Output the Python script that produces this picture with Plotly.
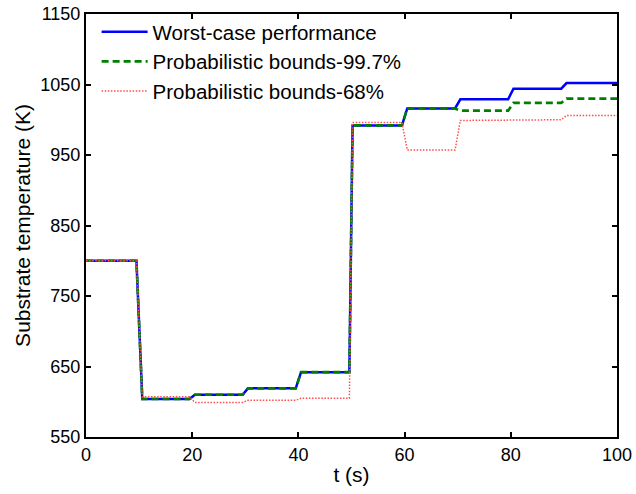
import plotly.graph_objects as go

# Time stamps (s): set-point changes every 10 s, each ramp taking about 1 s
t = [0, 9.5, 10.6, 19.5, 20.5, 29.5, 30.5, 39.5, 40.5, 49.6, 50.2,
     59.5, 60.5, 69.5, 70.5, 79.5, 80.5, 89.5, 90.5, 100]

# Substrate temperature (K)
worst_case = [800, 800, 604, 604, 610, 610, 619, 619, 642, 642, 992,
              992, 1016, 1016, 1029, 1029, 1044, 1044, 1052, 1052]
bounds_997 = [800, 800, 604, 604, 610, 610, 619, 619, 642, 642, 992,
              992, 1016, 1016, 1013, 1013, 1024, 1024, 1030, 1030]
bounds_68 = [800, 800, 607, 607, 599, 599, 602, 602, 605, 605, 996,
             996, 957, 957, 999, 999, 1000, 1000, 1006, 1006]

x_ticks = [0, 20, 40, 60, 80, 100]
y_ticks = [550, 650, 750, 850, 950, 1050, 1150]

FONT = "Liberation Sans, Arial, sans-serif"
TICK_FONT = dict(family=FONT, size=18, color="black")
LABEL_FONT = dict(family=FONT, size=21, color="black")
LEGEND_FONT = dict(family=FONT, size=20.5, color="black")

fig = go.Figure()
fig.add_trace(go.Scatter(x=t, y=worst_case, mode="lines",
                         name="Worst-case performance",
                         line=dict(color="#0000ff", width=2.5)))
fig.add_trace(go.Scatter(x=t, y=bounds_997, mode="lines",
                         name="Probabilistic bounds-99.7%",
                         line=dict(color="#008000", width=2.6, dash="7px,4px")))
fig.add_trace(go.Scatter(x=t, y=bounds_68, mode="lines",
                         name="Probabilistic bounds-68%",
                         line=dict(color="#ff4d4d", width=1.5, dash="1.5px,1.6px")))

axis_common = dict(showgrid=False, zeroline=False, showline=True,
                   linecolor="black", linewidth=2, mirror="ticks",
                   ticks="inside", ticklen=5, tickwidth=2, tickcolor="black",
                   tickfont=TICK_FONT)

fig.update_xaxes(range=[0, 100], tickvals=x_ticks,
                 title=dict(text="t (s)", font=LABEL_FONT, standoff=4),
                 **axis_common)
fig.update_yaxes(range=[550, 1150], tickvals=y_ticks,
                 title=dict(text="Substrate temperature (K)", font=LABEL_FONT,
                            standoff=4),
                 **axis_common)

fig.update_layout(
    width=636, height=494,
    margin=dict(l=86, r=19, t=14, b=57, autoexpand=False),
    paper_bgcolor="white", plot_bgcolor="white",
    font=dict(family=FONT, size=18, color="black"),
    showlegend=True,
    legend=dict(x=0.02, y=1.005, xanchor="left", yanchor="top",
                bgcolor="rgba(255,255,255,0)", borderwidth=0,
                font=LEGEND_FONT, tracegroupgap=0, itemwidth=46),
)

fig.write_html("out.html")
